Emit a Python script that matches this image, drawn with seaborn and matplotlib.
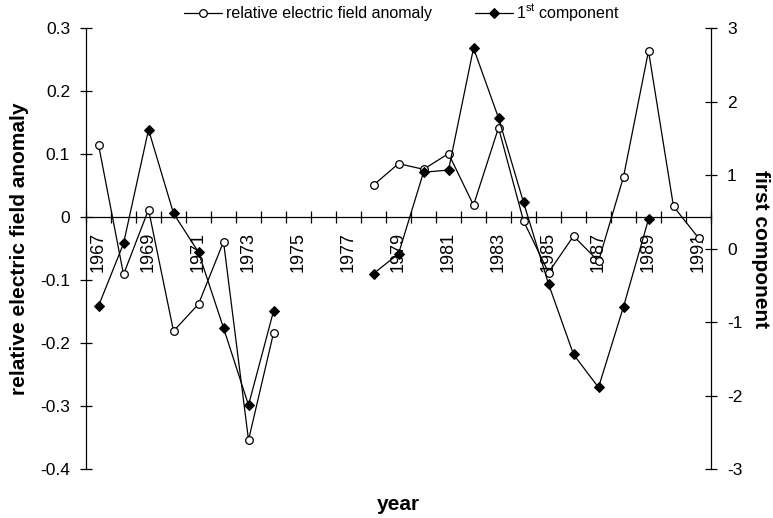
import numpy as np
import pandas as pd
import matplotlib.pyplot as plt
import seaborn as sns

# data
years = list(range(1967, 1992))
anomaly = [0.115, -0.091, 0.012, -0.181, -0.138, -0.039, -0.354, -0.184,
           np.nan, np.nan, np.nan,
           0.051, 0.085, 0.076, 0.101, 0.019, 0.142, -0.006, -0.088,
           -0.030, -0.070, 0.064, 0.264, 0.017, -0.033]
component = [-0.78, 0.07, 1.62, 0.48, -0.05, -1.08, -2.13, -0.85,
             np.nan, np.nan, np.nan,
             -0.34, -0.07, 1.04, 1.07, 2.73, 1.78, 0.63, -0.48,
             -1.44, -1.89, -0.79, 0.40, np.nan, np.nan]

left_ticks = [0.3, 0.2, 0.1, 0.0, -0.1, -0.2, -0.3, -0.4]
left_labels = ['0.3', '0.2', '0.1', '0', '-0.1', '-0.2', '-0.3', '-0.4']
right_ticks = [3, 2, 1, 0, -1, -2, -3]
right_labels = ['3', '2', '1', '0', '-1', '-2', '-3']
year_labels = [str(y) for y in years[::2]]

sns.set_style('white', {'axes.edgecolor': 'black', 'text.color': 'black',
                        'xtick.color': 'black', 'ytick.color': 'black',
                        'axes.labelcolor': 'black'})
plt.rcParams['font.family'] = ['Liberation Sans', 'DejaVu Sans']
plt.rcParams['mathtext.fontset'] = 'custom'
plt.rcParams['mathtext.rm'] = 'Liberation Sans'
plt.rcParams['axes.unicode_minus'] = False

df = pd.DataFrame({'pos': np.arange(len(years)),
                   'anomaly': anomaly, 'component': component})
# split the lines where years are missing
df['seg_a'] = df['anomaly'].isna().cumsum()
df['seg_c'] = df['component'].isna().cumsum()

fig = plt.figure(figsize=(7.73, 5.18), dpi=100)
ax = fig.add_axes([0.1113, 0.0946, 0.8085, 0.8508])
ax2 = ax.twinx()

sns.lineplot(data=df, x='pos', y='anomaly', units='seg_a', estimator=None,
             ax=ax, color='black', lw=0.9, marker='o', ms=5.5,
             mfc='white', mec='black', mew=0.9, legend=False)
sns.lineplot(data=df, x='pos', y='component', units='seg_c', estimator=None,
             ax=ax2, color='black', lw=0.9, marker='D', ms=4.6,
             mfc='black', mec='black', legend=False)

# x axis: line through zero with ticks between categories
ax.set_xlim(-0.5, len(years) - 0.5)
ax.set_xticks(np.arange(0, len(years), 2))
ax.set_xticklabels(year_labels)
ax.set_xticks(np.arange(-0.5, len(years), 1), minor=True)
ax.tick_params(axis='x', which='major', bottom=True, length=0, pad=10.5,
               labelsize=13, labelrotation=90)
ax.tick_params(axis='x', which='minor', bottom=True, direction='inout',
               length=8, width=0.9)
ax.spines['bottom'].set_position(('data', 0))
for s in ['top', 'right']:
    ax.spines[s].set_visible(False)
for s in ['top', 'left', 'bottom']:
    ax2.spines[s].set_visible(False)
for s in ax.spines.values():
    s.set_linewidth(0.9)
ax2.spines['right'].set_linewidth(0.9)

ax.set_ylim(-0.4, 0.3)
ax.set_yticks(left_ticks)
ax.set_yticklabels(left_labels)
ax.tick_params(axis='y', left=True, direction='inout', length=8, width=0.9,
               pad=7.5, labelsize=12.5)

ax2.set_ylim(-3, 3)
ax2.set_yticks(right_ticks)
ax2.set_yticklabels(right_labels)
ax2.tick_params(axis='y', right=True, direction='inout', length=8, width=0.9,
                pad=7.5, labelsize=12.5)

ax.set_ylabel('relative electric field anomaly', fontsize=15, fontweight='bold', labelpad=8)
ax2.set_ylabel('first component', fontsize=15, fontweight='bold',
               rotation=270, va='bottom', labelpad=6)
ax.set_xlabel('year', fontsize=15, fontweight='bold')
ax.xaxis.set_label_coords(0.5, -0.058)

fig.legend([ax.lines[0], ax2.lines[0]],
           ['relative electric field anomaly', r'1$^{\mathrm{st}}$ component'],
           loc='center', bbox_to_anchor=(0.52, 0.975), ncol=2, frameon=False,
           fontsize=11.5, handlelength=2.4, handletextpad=0.2, columnspacing=2.7)

plt.savefig('out.png', dpi=100, facecolor='white')
